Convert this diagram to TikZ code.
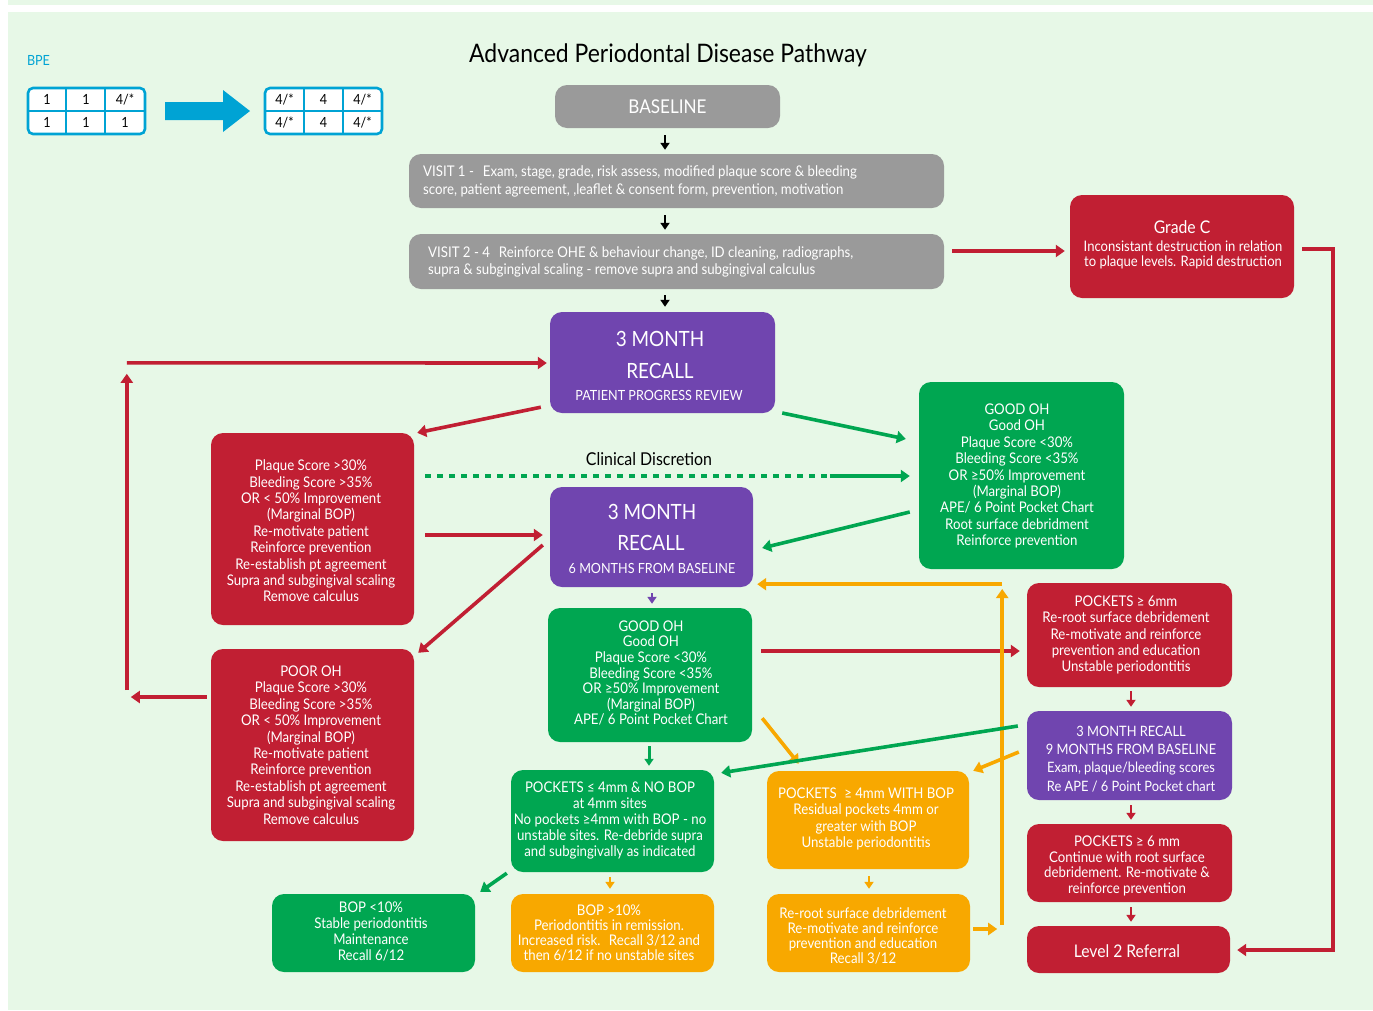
\documentclass[tikz,border=0pt]{standalone}
\usepackage{fontspec}
\setmainfont{Lato}[FakeStretch=0.9]
\usetikzlibrary{arrows.meta,calc}
\definecolor{bg}{HTML}{E7F8E7}
\definecolor{cgray}{HTML}{9A9A9A}
\definecolor{cred}{HTML}{C11F33}
\definecolor{cpur}{HTML}{7045AF}
\definecolor{cgrn}{HTML}{00A651}
\definecolor{corg}{HTML}{F8A800}
\definecolor{ccyan}{HTML}{00A3D4}
\tikzset{
  box/.style={rounded corners=12pt, draw=none, inner sep=0pt},
  gbox/.style={box, fill=cgray},
  rbox/.style={box, fill=cred},
  pbox/.style={box, fill=cpur},
  ebox/.style={box, fill=cgrn},
  obox/.style={box, fill=corg},
  txt/.style={text=white, align=center, inner sep=0pt, font=\fontsize{14.7}{16.4}\selectfont},
  bigtxt/.style={text=white, inner sep=0pt, font=\fontsize{21}{24}\selectfont},
  arr/.style={line width=3.6pt, -{Triangle[length=9pt,width=12pt]}},
  sarr/.style={line width=2.6pt, -{Triangle[length=7pt,width=9pt]}},
  cell/.style={inner sep=0pt, font=\fontsize{14}{15}\selectfont},
}
\begin{document}
\begin{tikzpicture}[x=1pt,y=-1pt]
\useasboundingbox (0,0) rectangle (1373,1010);
\fill[white] (0,0) rectangle (1373,1010);
\fill[bg] (8,0) rectangle (1373,5);
\fill[bg] (8,12) rectangle (1373,1010);

% title
\node[inner sep=0pt, font=\fontsize{25.5}{28}\selectfont] (title) at (668,55) {Advanced Periodontal Disease Pathway};
\node[inner sep=0pt, text=ccyan, font=\fontsize{14}{15}\selectfont] (bpe) at (38.5,60) {BPE};

% BPE tables
\node[draw=ccyan, line width=2.6pt, rounded corners=5pt, fill=white, minimum width=117, minimum height=46, inner sep=0pt] (tab1) at (86.5,111) {};
\draw[ccyan, line width=1.2pt] (66,88) -- (66,134) (105,88) -- (105,134) (28,111) -- (145,111);
\node[cell] (t11) at (47,99.5) {1};
\node[cell] (t12) at (86,99.5) {1};
\node[cell] (t13) at (125,99.5) {4/*};
\node[cell] (t21) at (47,122.5) {1};
\node[cell] (t22) at (86,122.5) {1};
\node[cell] (t23) at (125,122.5) {1};
\node[draw=ccyan, line width=2.6pt, rounded corners=5pt, fill=white, minimum width=117, minimum height=46, inner sep=0pt] (tab2) at (323.5,111) {};
\draw[ccyan, line width=1.2pt] (304,88) -- (304,134) (343,88) -- (343,134) (265,111) -- (382,111);
\node[cell] (u11) at (284.5,99.5) {4/*};
\node[cell] (u12) at (323.5,99.5) {4};
\node[cell] (u13) at (362.5,99.5) {4/*};
\node[cell] (u21) at (284.5,122.5) {4/*};
\node[cell] (u22) at (323.5,122.5) {4};
\node[cell] (u23) at (362.5,122.5) {4/*};
\fill[ccyan] (165,102) -- (223,102) -- (223,90) -- (250,111) -- (223,132) -- (223,120) -- (165,120) -- cycle;

% boxes
\node[gbox, minimum width=225, minimum height=43] (base) at (667.5,106.5) {};
\node[txt, font=\fontsize{19}{22}\selectfont] at (base) {BASELINE};
\node[gbox, minimum width=535, minimum height=54] (v1) at (676.5,181) {};
\node[txt, align=left, anchor=west, font=\fontsize{14.7}{18}\selectfont] at (423,181) {VISIT 1 -\hspace{9pt}Exam, stage, grade, risk assess, modified plaque score \& bleeding\\score, patient agreement, ,leaflet \& consent form, prevention, motivation};
\node[gbox, minimum width=535, minimum height=55] (v2) at (676.5,261.5) {};
\node[txt, align=left, anchor=west, font=\fontsize{14.7}{17.5}\selectfont] at (428,262) {VISIT 2 - 4\hspace{9pt}Reinforce OHE \& behaviour change, ID cleaning, radiographs,\\supra \& subgingival scaling - remove supra and subgingival calculus};

\node[rbox, minimum width=224, minimum height=103] (gradec) at (1182,246.5) {};
\node[txt, font=\fontsize{17.5}{20}\selectfont] at (1182,227) {Grade C};
\node[txt, font=\fontsize{14.5}{15}\selectfont] at (1183,255) {Inconsistant destruction in relation\\to plaque levels. Rapid destruction};

\node[pbox, minimum width=225, minimum height=101] (rec1) at (662.5,362.5) {};
\node[bigtxt] at (660,339) {3 MONTH};
\node[bigtxt] at (660,371) {RECALL};
\node[txt, font=\fontsize{14}{16}\selectfont] at (659,395) {PATIENT PROGRESS REVIEW};

\node[rbox, minimum width=203, minimum height=192] (red1) at (312.5,529) {};
\node[txt] at (311,531) {Plaque Score >30\%\\Bleeding Score >35\%\\OR < 50\% Improvement\\(Marginal BOP)\\Re-motivate patient\\Reinforce prevention\\Re-establish pt agreement\\Supra and subgingival scaling\\Remove calculus};

\node[rbox, minimum width=203, minimum height=192] (poor) at (312.5,745) {};
\node[txt] at (311,745) {POOR OH\\Plaque Score >30\%\\Bleeding Score >35\%\\OR < 50\% Improvement\\(Marginal BOP)\\Re-motivate patient\\Reinforce prevention\\Re-establish pt agreement\\Supra and subgingival scaling\\Remove calculus};

\node[ebox, minimum width=205, minimum height=187] (goodr) at (1021.5,475.5) {};
\node[txt] at (1017,476) {GOOD OH\\Good OH\\Plaque Score <30\%\\Bleeding Score <35\%\\OR ≥50\% Improvement\\(Marginal BOP)\\APE/ 6 Point Pocket Chart\\Root surface debridment\\Reinforce prevention};

\node[inner sep=0pt, font=\fontsize{17.7}{20}\selectfont] (clin) at (649,459) {Clinical Discretion};

\node[pbox, minimum width=203, minimum height=100] (rec2) at (651.5,537) {};
\node[bigtxt] at (652,512) {3 MONTH};
\node[bigtxt] at (651,543) {RECALL};
\node[txt, font=\fontsize{14}{16}\selectfont] at (652,568) {6 MONTHS FROM BASELINE};

\node[ebox, minimum width=204, minimum height=134] (goodc) at (650,675) {};
\node[txt, font=\fontsize{14.7}{15.6}\selectfont] at (651,673) {GOOD OH\\Good OH\\Plaque Score <30\%\\Bleeding Score <35\%\\OR ≥50\% Improvement\\(Marginal BOP)\\APE/ 6 Point Pocket Chart};

\node[ebox, minimum width=203, minimum height=102] (p4) at (612.5,821) {};
\node[txt, font=\fontsize{14.7}{16}\selectfont] at (610,821) {POCKETS ≤ 4mm \& NO BOP\\at 4mm sites\\No pockets ≥4mm with BOP - no\\unstable sites. Re-debride supra\\and subgingivally as indicated};

\node[obox, minimum width=202, minimum height=98] (pwb) at (868,820) {};
\node[txt, font=\fontsize{14.7}{16.3}\selectfont] at (866,819) {POCKETS\hspace{4pt} ≥ 4mm WITH BOP\\Residual pockets 4mm or\\greater with BOP\\Unstable periodontitis};

\node[ebox, minimum width=203, minimum height=78] (bop1) at (373.5,933) {};
\node[txt, font=\fontsize{14.7}{16}\selectfont] at (371,931) {BOP <10\%\\Stable periodontitis\\Maintenance\\Recall 6/12};
\node[obox, minimum width=203, minimum height=78] (bop2) at (612.5,933) {};
\node[txt, font=\fontsize{14.7}{15}\selectfont] at (609,933) {BOP >10\%\\Periodontitis in remission.\\Increased risk.\hspace{4pt} Recall 3/12 and\\then 6/12 if no unstable sites};
\node[obox, minimum width=203, minimum height=78] (reroot) at (868.5,933) {};
\node[txt, font=\fontsize{14.7}{15}\selectfont] at (863,936) {Re-root surface debridement\\Re-motivate and reinforce\\prevention and education\\Recall 3/12};

\node[rbox, minimum width=205, minimum height=104] (pk6a) at (1129.5,635) {};
\node[txt, font=\fontsize{14.7}{16.2}\selectfont] at (1126,635) {POCKETS ≥ 6mm\\Re-root surface debridement\\Re-motivate and reinforce\\prevention and education\\Unstable periodontitis};
\node[pbox, minimum width=205, minimum height=89] (nine) at (1129.5,755.5) {};
\node[txt, font=\fontsize{14.3}{18.2}\selectfont] at (1131,759) {3 MONTH RECALL\\9 MONTHS FROM BASELINE\\Exam, plaque/bleeding scores\\Re APE / 6 Point Pocket chart};
\node[rbox, minimum width=205, minimum height=78] (pk6b) at (1129.5,863) {};
\node[txt, font=\fontsize{14.7}{15.4}\selectfont] at (1127,866) {POCKETS ≥ 6 mm\\Continue with root surface\\debridement. Re-motivate \&\\reinforce prevention};
\node[rbox, minimum width=203, minimum height=47] (l2) at (1128.5,949.5) {};
\node[txt, font=\fontsize{17.4}{20}\selectfont] at (1127,951) {Level 2 Referral};

% connectors
\draw[sarr, black, shorten <=7pt, shorten >=4pt] ($(base.south)+(-2.5,0)$) -- ($(base.south |- v1.north)+(-2.5,0)$);
\draw[sarr, black, shorten <=7pt, shorten >=4pt] ($(base.south |- v1.south)+(-2.5,0)$) -- ($(base.south |- v2.north)+(-2.5,0)$);
\draw[sarr, black, shorten <=6pt, shorten >=5pt] ($(base.south |- v2.south)+(-2.5,0)$) -- ($(base.south |- rec1.north)+(-2.5,0)$);

\draw[arr, cred] ($(v2.east)+(8,-10.5)$) -- ($(gradec.west)+(-5,4.5)$);
\draw[arr, cred, line cap=butt] ($(gradec.east)+(8,2.5)$) -- ++(31,0) |- ($(l2.east)+(7,0.5)$);

\draw[arr, cred] ($(rec1.south west)+(-9,-6)$) -- ($(red1.north east)+(3,0)$);
\draw[arr, cred] ($(red1.north west)+(-84,-70)$) -- ($(rec1.west)+(-3,0.5)$);
\draw[arr, cred] ($(poor.west)+(-84,-55)$) -- ($(red1.north west)+(-84,-59)$);
\draw[arr, cred] ($(poor.west)+(-4,-48)$) -- ++(-76,0);
\draw[arr, cred] ($(red1.east)+(11,6)$) -- ($(rec2.west)+(-7,-2)$);
\draw[arr, cred] ($(rec2.west)+(-7,8)$) -- ($(poor.north east)+(4,4)$);

\draw[cgrn, line width=3.6pt, dash pattern=on 6pt off 6pt] ($(red1.east)+(11,-53)$) -- ($(goodr.west)+(-89,0.5)$);
\draw[arr, cgrn] ($(goodr.west)+(-89,0.5)$) -- ($(goodr.west)+(-9,0.5)$);
\draw[arr, cgrn] ($(rec1.east)+(7,50.5)$) -- ($(goodr.west)+(-13,-36.5)$);
\draw[arr, cgrn] ($(goodr.west)+(-9,36.5)$) -- ($(rec2.east)+(9,11)$);

\draw[sarr, cpur, shorten <=6pt, shorten >=4pt] ($(rec2.south)+(0.5,0)$) -- ($(goodc.north)+(2,0)$);
\draw[arr, cred] ($(goodc.east)+(9,-24)$) -- ($(pk6a.west)+(-7,16)$);

\draw[arr, corg] ($(reroot.east)+(32,-8)$) -- ++(0,-336);
\draw[arr, corg] ($(rec2.south east)+(249,-3)$) -- ($(rec2.south east)+(4,-3)$);
\draw[arr, corg] ($(reroot.east)+(3,-4)$) -- ++(24,0);
\draw[arr, corg] ($(goodc.south east)+(10,-24)$) -- ($(pwb.north west)+(32,-7)$);
\draw[arr, cgrn] ($(nine.west)+(-9,-29.5)$) -- ($(p4.north east)+(7,3)$);
\draw[arr, corg] ($(nine.west)+(-8,-3.5)$) -- ($(pwb.north east)+(4,0)$);

\draw[sarr, cgrn, line width=3pt, shorten <=4pt, shorten >=4pt] ($(goodc.south)+(-1,0)$) -- ($(goodc.south |- p4.north)+(-1,0)$);
\draw[arr, cgrn] ($(p4.south west)+(-4,1)$) -- ($(bop1.north east)+(5,-2)$);
\draw[sarr, corg, shorten <=5pt, shorten >=5pt] ($(p4.south)+(-2.5,0)$) -- ($(bop2.north)+(-2.5,0)$);
\draw[sarr, corg, shorten <=7pt, shorten >=5pt] ($(pwb.south)+(1,0)$) -- ($(reroot.north)+(0.5,0)$);
\draw[sarr, cred, shorten <=4pt, shorten >=4pt] ($(pk6a.south)+(1.5,0)$) -- ($(nine.north)+(1.5,0)$);
\draw[sarr, cred, shorten <=5pt, shorten >=4pt] ($(nine.south)+(1.5,0)$) -- ($(pk6b.north)+(1.5,0)$);
\draw[sarr, cred, shorten <=5pt, shorten >=4pt] ($(pk6b.south)+(1.5,0)$) -- ($(l2.north)+(2.5,0)$);
\end{tikzpicture}
\end{document}
